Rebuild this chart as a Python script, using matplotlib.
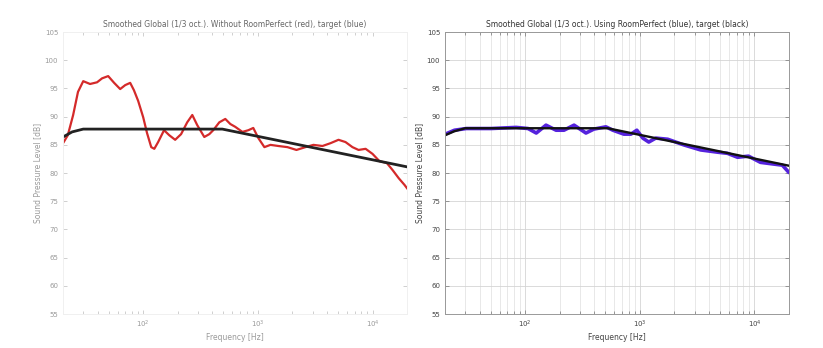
import matplotlib.pyplot as plt
from matplotlib.ticker import LogLocator, NullFormatter

# red: measured response without RoomPerfect (left panel)
red_freq = [20, 22, 24.5, 27, 30, 34.4, 39.6, 43.8, 49.5, 55.8, 63, 69.7, 77, 83, 90.4,
            100, 108, 117.5, 125, 135, 152, 169, 190, 214, 242, 268, 296, 341, 377, 408,
            461, 520, 575, 635, 733, 826, 912, 1010, 1140, 1288, 1510, 1810, 2170, 2600,
            3050, 3660, 4300, 5050, 5810, 6680, 7550, 8700, 10000, 11500, 13300, 15000,
            16900, 19000, 20000]
red_db = [85.3, 86.7, 90.3, 94.4, 96.3, 95.8, 96.1, 96.8, 97.2, 96.0, 94.9, 95.6, 96.0, 94.7, 92.8,
          89.9, 87.1, 84.6, 84.3, 85.5, 87.6, 86.7, 85.9, 86.9, 89.0, 90.3, 88.5, 86.4, 86.9, 87.6,
          89.0, 89.6, 88.7, 88.2, 87.3, 87.6, 88.0, 86.2, 84.6, 85.0, 84.8, 84.6, 84.1, 84.6,
          85.0, 84.8, 85.3, 85.9, 85.5, 84.6, 84.1, 84.3, 83.4, 82.1, 81.8, 80.5,
          79.1, 77.9, 77.3]

# target curve, left panel
tgt_l_freq = [20, 24, 30, 490, 20000]
tgt_l_db = [86.4, 87.3, 87.8, 87.8, 81.1]

# blue: response using RoomPerfect (right panel)
blue_freq = [20.1, 24.2, 30.7, 50.6, 83.5, 106, 125, 152, 186, 218, 267, 339, 398, 506,
             582, 726, 836, 942, 1062, 1197, 1377, 1750, 2414, 3390, 4770, 5820, 7110,
             8870, 11270, 14620, 17500, 19770]
blue_db = [86.9, 87.6, 87.9, 87.9, 88.1, 87.9, 87.1, 88.5, 87.6, 87.6, 88.5, 87.1, 87.8, 88.2,
           87.6, 86.9, 86.9, 87.6, 86.2, 85.5, 86.2, 86.0, 85.0, 84.1, 83.7, 83.5, 82.8,
           83.0, 81.9, 81.6, 81.4, 80.2]

# target curve, right panel
tgt_r_freq = [20, 24, 30, 525, 20000]
tgt_r_db = [86.7, 87.4, 87.95, 87.95, 81.3]

yticks = list(range(55, 106, 5))

fig = plt.figure(figsize=(8.23, 3.48), dpi=100)
ax1 = fig.add_axes([0.0766, 0.0977, 0.418, 0.810])
ax2 = fig.add_axes([0.5407, 0.0977, 0.418, 0.810])


def style_axes(ax, faded):
    ax.set_xscale('log')
    ax.set_xlim(20, 20000)
    ax.set_ylim(55, 105)
    ax.set_yticks(yticks)
    ax.xaxis.set_minor_locator(LogLocator(base=10, subs=range(2, 10)))
    ax.xaxis.set_minor_formatter(NullFormatter())
    tick_col = '#c8c8c8' if faded else '#888888'
    lab_col = '#9a9a9a' if faded else '#444444'
    ax.tick_params(which='both', direction='in', top=True, right=True,
                   colors=tick_col, labelcolor=lab_col, labelsize=5, length=2, width=0.6)
    ax.tick_params(which='major', length=3)
    for s in ax.spines.values():
        s.set_color('#f0f0f0' if faded else '#999999')
        s.set_linewidth(0.7)
    if not faded:
        ax.grid(True, which='major', color='#d4d4d4', lw=0.6)
        ax.grid(True, which='minor', color='#dedede', lw=0.5)
        ax.set_axisbelow(True)
    ax.set_xlabel('Frequency [Hz]', fontsize=5.5, color=lab_col, labelpad=2)
    ax.set_ylabel('Sound Pressure Level [dB]', fontsize=5.5, color=lab_col, labelpad=2)


style_axes(ax1, True)
style_axes(ax2, False)

ax1.plot(red_freq, red_db, color='#d42a2a', lw=1.6)
ax1.plot(tgt_l_freq, tgt_l_db, color='#222222', lw=2.0)
ax1.set_title('Smoothed Global (1/3 oct.). Without RoomPerfect (red), target (blue)',
              fontsize=5.5, color='#666666', pad=4)

ax2.plot(blue_freq, blue_db, color='#5522dd', lw=2.6)
ax2.plot(tgt_r_freq, tgt_r_db, color='#111111', lw=1.7)
ax2.set_title('Smoothed Global (1/3 oct.). Using RoomPerfect (blue), target (black)',
              fontsize=5.5, color='#333333', pad=4)

fig.savefig('out.png', dpi=100, facecolor='white')
